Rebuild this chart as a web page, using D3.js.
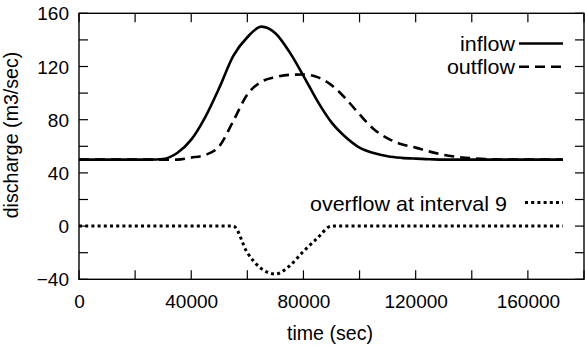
<!DOCTYPE html>
<html>
<head>
<meta charset="utf-8">
<script src="https://cdn.jsdelivr.net/npm/d3@7"></script>
<style>
  html, body { margin: 0; padding: 0; background: #fff; }
  svg text { font-family: "Liberation Sans", Arial, Helvetica, sans-serif; fill: #000; }
</style>
</head>
<body>
<svg id="chart" width="585" height="349"></svg>
<script>
// Sample times (sec)
const times = [0, 5000, 10000, 15000, 20000, 25000, 30000, 35000, 40000, 45000,
  50000, 55000, 60000, 65000, 70000, 75000, 80000, 85000, 90000, 95000,
  100000, 105000, 110000, 115000, 120000, 125000, 130000, 135000, 140000, 145000,
  150000, 155000, 160000, 165000, 170000, 172500];

// Discharge (m3/sec)
const inflow = [50, 50, 50, 50, 50, 50, 50.5, 55, 65, 82,
  104, 128, 142, 150, 145, 131, 113, 94, 78, 67,
  59, 55, 52.5, 51.3, 50.7, 50.3, 50, 50, 50, 50,
  50, 50, 50, 50, 50, 50];

const outflow = [50, 50, 50, 50, 50, 50, 50, 50, 51.5, 53.5,
  60, 79, 99, 108.5, 112, 113.7, 114, 112, 106, 96,
  84, 73, 66, 61.5, 59, 56, 53.5, 52, 51, 50.5,
  50, 50, 50, 50, 50, 50];

const overflow = [0, 0, 0, 0, 0, 0, 0, 0, 0, 0,
  0, 0, -20, -32, -36, -30, -19, -9, 0, 0,
  0, 0, 0, 0, 0, 0, 0, 0, 0, 0,
  0, 0, 0, 0, 0, 0];

const xTickLabels = [0, 40000, 80000, 120000, 160000];
const yTickLabels = [-40, 0, 40, 80, 120, 160];
const seriesNames = ["inflow", "outflow", "overflow at interval 9"];

const svg = d3.select("#chart");
const pLeft = 79, pRight = 584, pTop = 13.3, pBottom = 279.3;

const x = d3.scaleLinear().domain([0, 180000]).range([pLeft, pRight]);
const y = d3.scaleLinear().domain([-40, 160]).range([pBottom, pTop]);

const FS = "19px";
const tickLen = 9;

// Inward ticks on all four sides
const xMinor = d3.range(0, 180001, 20000);
const yMinor = d3.range(-40, 161, 20);
const ticks = svg.append("g").attr("stroke", "#000").attr("stroke-width", 1.2);
xMinor.forEach(t => {
  ticks.append("line").attr("x1", x(t)).attr("x2", x(t)).attr("y1", pBottom).attr("y2", pBottom - tickLen);
  ticks.append("line").attr("x1", x(t)).attr("x2", x(t)).attr("y1", pTop).attr("y2", pTop + tickLen);
});
yMinor.forEach(v => {
  ticks.append("line").attr("x1", pLeft).attr("x2", pLeft + tickLen).attr("y1", y(v)).attr("y2", y(v));
  ticks.append("line").attr("x1", pRight).attr("x2", pRight - tickLen).attr("y1", y(v)).attr("y2", y(v));
});

// Tick labels through d3 axes (tick marks hidden, labels only)
const xAxis = d3.axisBottom(x).tickValues(xTickLabels).tickSize(0).tickPadding(0).tickFormat(d3.format("d"));
const gx = svg.append("g").attr("transform", `translate(0,${pBottom})`).call(xAxis);
gx.select(".domain").remove();
gx.selectAll("text").attr("font-size", FS).attr("dy", null).attr("y", 28.4);
gx.attr("font-family", null).attr("font-size", null);

const yAxis = d3.axisLeft(y).tickValues(yTickLabels).tickSize(0).tickPadding(10).tickFormat(d3.format("d"));
const gy = svg.append("g").attr("transform", `translate(${pLeft},0)`).call(yAxis);
gy.select(".domain").remove();
gy.selectAll("text").attr("font-size", FS).attr("dy", "0.35em");
gy.attr("font-family", null).attr("font-size", null);

// Frame
svg.append("rect").attr("x", pLeft).attr("y", pTop)
  .attr("width", pRight - pLeft).attr("height", pBottom - pTop)
  .attr("fill", "none").attr("stroke", "#000").attr("stroke-width", 1.4);

// Axis titles
svg.append("text").attr("x", 330).attr("y", 340)
  .attr("text-anchor", "middle").attr("font-size", "19.6px").text("time (sec)");
svg.append("text").attr("transform", `translate(18,135) rotate(-90)`)
  .attr("text-anchor", "middle").attr("font-size", "19.6px").text("discharge (m3/sec)");

// Series
const styles = [
  { values: inflow, dash: null, width: 2.6 },
  { values: outflow, dash: "10,6", width: 2.6 },
  { values: overflow, dash: "3,3.2", width: 3 }
];
const line = d3.line().x(d => x(d[0])).y(d => y(d[1])).curve(d3.curveMonotoneX);
styles.forEach(s => {
  svg.append("path")
    .datum(times.map((t, i) => [t, s.values[i]]))
    .attr("d", line)
    .attr("fill", "none").attr("stroke", "#000")
    .attr("stroke-width", s.width)
    .attr("stroke-dasharray", s.dash);
});

// Legend (text slightly widened, right-aligned before its sample line)
const legendRows = [
  { name: seriesNames[0], ty: 50.5, ly: 43.5, tx: 515, x1: 519, x2: 563, s: styles[0] },
  { name: seriesNames[1], ty: 73.5, ly: 66.7, tx: 515, x1: 519, x2: 563, s: styles[1] },
  { name: seriesNames[2], ty: 211, ly: 202.5, tx: 507, x1: 525, x2: 563, s: styles[2] }
];
legendRows.forEach(r => {
  svg.append("text").attr("transform", `translate(${r.tx},${r.ty}) scale(1.075,1)`)
    .attr("text-anchor", "end").attr("font-size", "20px").text(r.name);
  svg.append("line").attr("x1", r.x1).attr("x2", r.x2).attr("y1", r.ly).attr("y2", r.ly)
    .attr("stroke", "#000").attr("stroke-width", r.s.width)
    .attr("stroke-dasharray", r.s.dash);
});
</script>
</body>
</html>
